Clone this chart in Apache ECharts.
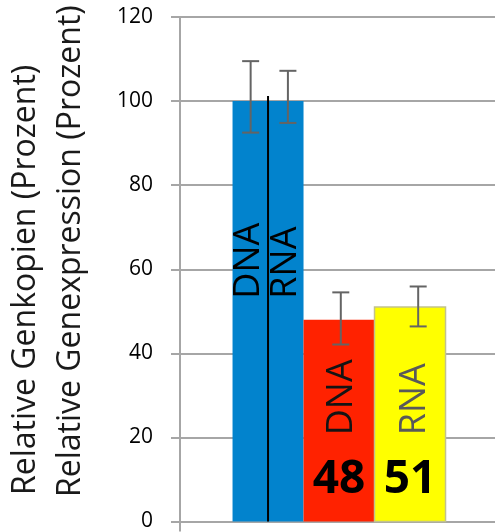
<!DOCTYPE html>
<html>
<head>
<meta charset="utf-8">
<script src="https://cdn.jsdelivr.net/npm/echarts@6/dist/echarts.min.js"></script>
<style>
  html, body { margin: 0; padding: 0; background: #fff; }
  #chart { width: 495px; height: 532px; }
</style>
</head>
<body>
<div id="chart"></div>
<script>
// Relative gene copy number (DNA) and gene expression (RNA), in percent of the control
const markers = ['DNA', 'RNA', 'DNA', 'RNA'];
const relativeValues = [100, 100, 48, 51];
const errorLow = [92.5, 94.8, 42.1, 46.4];
const errorHigh = [109.5, 107.2, 54.5, 55.9];
const showValue = [false, false, true, true];
const yTickValues = [0, 20, 40, 60, 80, 100, 120];
const axisTitles = ['Relative Genkopien (Prozent)', 'Relative Genexpression (Prozent)'];

// ---- layout and styling ----
// the control column is shared by its DNA and RNA halves
const column = [1, 1, 2, 3];
const barColors = ['#0283CD', '#0283CD', '#FF2200', '#FFFF00'];
const barBorders = [null, null, null, '#C2C28C'];
const markerColors = ['#000000', '#000000', '#141414', '#595959'];
const errorShift = [0.005, 0.03, 0.025, 0.115];   // column units
const markerShift = [-0.02, 0, 0.04, 0.06];       // column units
const markerStart = [53, 53, 20.5, 20.5];         // axis value where the rotated word begins
const valueLabelCenter = 10;                      // axis value at the centre of the bold numbers
const xMin = -0.24, xMax = 4.197;
const gridColor = '#A6A6A6';
const FONT = '"Open Sans", "Noto Sans", sans-serif';

const chart = echarts.init(document.getElementById('chart'), null, { renderer: 'canvas' });

function layoutOf(i) {
  const sameCol = column.map((c, k) => c === column[i] ? k : -1).filter(k => k >= 0);
  if (sameCol.length < 2) return { center: column[i], width: 1, half: 0 };
  const half = sameCol.indexOf(i) === 0 ? -1 : 1;
  return { center: column[i] + half * 0.25, width: 0.5, half };
}

function renderItem(params, api) {
  const i = params.dataIndex;
  const val = api.value(1);
  const lay = layoutOf(i);
  const tl = api.coord([lay.center - lay.width / 2, val]);
  const br = api.coord([lay.center + lay.width / 2, 0]);
  const children = [];

  children.push({
    type: 'rect',
    shape: { x: tl[0], y: tl[1], width: br[0] - tl[0], height: br[1] - tl[1] },
    style: barBorders[i]
      ? { fill: barColors[i], stroke: barBorders[i], lineWidth: 1.5 }
      : { fill: barColors[i] }
  });

  // black divider between the DNA and RNA halves of the control column
  if (lay.half === 1) {
    children.push({
      type: 'line',
      shape: { x1: tl[0], y1: tl[1] - 5, x2: tl[0], y2: br[1] },
      style: { stroke: '#000', lineWidth: 2 }
    });
  }

  // error bar
  const ex = lay.center + errorShift[i];
  const eTop = api.coord([ex, errorHigh[i]]);
  const eBot = api.coord([ex, errorLow[i]]);
  const cap = 8.5;
  const errStyle = { stroke: '#646464', lineWidth: 2 };
  children.push({ type: 'line', shape: { x1: eTop[0], y1: eTop[1], x2: eBot[0], y2: eBot[1] }, style: errStyle });
  children.push({ type: 'line', shape: { x1: eTop[0] - cap, y1: eTop[1], x2: eTop[0] + cap, y2: eTop[1] }, style: errStyle });
  children.push({ type: 'line', shape: { x1: eBot[0] - cap, y1: eBot[1], x2: eBot[0] + cap, y2: eBot[1] }, style: errStyle });

  // rotated DNA / RNA word
  const mp = api.coord([lay.center + markerShift[i], markerStart[i]]);
  children.push({
    type: 'text',
    x: mp[0], y: mp[1],
    rotation: Math.PI / 2,
    style: {
      text: markers[i],
      fontFamily: FONT, fontSize: 36,
      fill: markerColors[i],
      align: 'left', verticalAlign: 'middle'
    }
  });

  if (showValue[i]) {
    const vp = api.coord([lay.center, valueLabelCenter]);
    children.push({
      type: 'text',
      x: vp[0], y: vp[1],
      style: {
        text: String(relativeValues[i]),
        fontFamily: FONT, fontSize: 46, fontWeight: 'bold',
        fill: '#000',
        align: 'center', verticalAlign: 'middle'
      }
    });
  }
  return { type: 'group', children };
}

const option = {
  animation: false,
  backgroundColor: '#fff',
  grid: { left: 180, right: 0, top: 17, bottom: 10, containLabel: false },
  xAxis: {
    type: 'value', min: xMin, max: xMax,
    axisLine: { show: false },
    splitLine: { show: false },
    axisLabel: { show: false },
    axisTick: {
      show: true, length: 10, customValues: [xMin],
      lineStyle: { color: gridColor, width: 2 }
    }
  },
  yAxis: {
    type: 'value',
    min: yTickValues[0],
    max: yTickValues[yTickValues.length - 1],
    interval: yTickValues[1] - yTickValues[0],
    axisLine: { show: true, onZero: false, lineStyle: { color: gridColor, width: 2 } },
    axisTick: { show: true, inside: false, length: 9, lineStyle: { color: gridColor, width: 2 } },
    splitLine: { show: true, lineStyle: { color: gridColor, width: 2 } },
    axisLabel: { margin: 27, fontSize: 21, fontFamily: FONT, color: '#000' }
  },
  series: [{
    type: 'custom',
    renderItem,
    clip: false,
    data: relativeValues.map((v, i) => [column[i], v])
  }],
  graphic: axisTitles.map((t, k) => ({
    type: 'text',
    x: [26, 71][k],
    y: [495, 497][k],
    rotation: Math.PI / 2,
    style: {
      text: t,
      fontFamily: FONT, fontSize: 32,
      fill: '#1a1a1a',
      align: 'left', verticalAlign: 'middle'
    }
  }))
};

chart.setOption(option);
</script>
</body>
</html>
